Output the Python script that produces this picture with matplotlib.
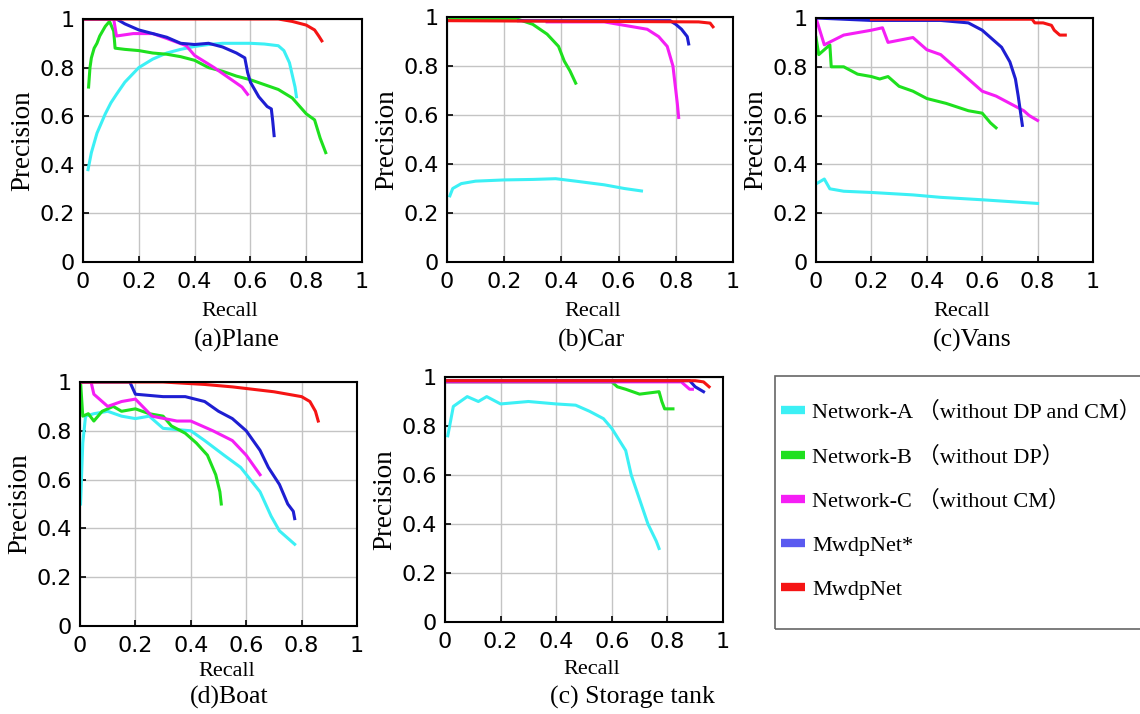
import matplotlib
matplotlib.use("Agg")
import matplotlib.pyplot as plt
from matplotlib.lines import Line2D
from matplotlib.patches import Rectangle

# model names and line colours
models = ["Network-A", "Network-B", "Network-C", "MwdpNet*", "MwdpNet"]
labels = ["Network-A （without DP and CM）", "Network-B （without DP）",
          "Network-C （without CM）", "MwdpNet*", "MwdpNet"]
colors = ["#3cf0f5", "#1ee01e", "#f51ef5", "#1e1ed2", "#f51414"]
legend_colors = ["#3cf0f5", "#1ee01e", "#f51ef5", "#5a5af0", "#f51414"]

# (recall, precision) read per class
plane = {
    "Network-A": ([0.018, 0.03, 0.05, 0.08, 0.10, 0.12, 0.15, 0.20, 0.25, 0.30, 0.35, 0.40, 0.45, 0.50,
                   0.60, 0.65, 0.70, 0.72, 0.74, 0.75, 0.76, 0.765],
                  [0.38, 0.45, 0.53, 0.61, 0.655, 0.69, 0.74, 0.80, 0.835, 0.86, 0.875, 0.887, 0.895, 0.90,
                   0.90, 0.897, 0.89, 0.87, 0.82, 0.77, 0.72, 0.68]),
    "Network-B": ([0.02, 0.025, 0.03, 0.04, 0.05, 0.06, 0.07, 0.08, 0.095, 0.11, 0.115, 0.15, 0.20, 0.25,
                   0.30, 0.35, 0.40, 0.45, 0.50, 0.55, 0.60, 0.65, 0.70, 0.75, 0.80, 0.83, 0.85, 0.87],
                  [0.72, 0.80, 0.84, 0.88, 0.90, 0.93, 0.95, 0.97, 0.99, 0.95, 0.88, 0.875, 0.87, 0.86,
                   0.855, 0.845, 0.83, 0.80, 0.785, 0.765, 0.75, 0.73, 0.71, 0.675, 0.61, 0.585, 0.51, 0.45]),
    "Network-C": ([0.0, 0.11, 0.12, 0.18, 0.25, 0.30, 0.37, 0.40, 0.47, 0.52, 0.57, 0.59],
                  [1.0, 1.0, 0.93, 0.94, 0.94, 0.92, 0.89, 0.85, 0.80, 0.76, 0.72, 0.69]),
    "MwdpNet*": ([0.0, 0.12, 0.15, 0.20, 0.25, 0.30, 0.35, 0.40, 0.45, 0.50, 0.55, 0.58, 0.59, 0.60,
                  0.63, 0.66, 0.675, 0.68, 0.685],
                 [1.0, 1.0, 0.98, 0.955, 0.94, 0.925, 0.90, 0.895, 0.90, 0.885, 0.86, 0.84, 0.78, 0.74,
                  0.68, 0.64, 0.63, 0.58, 0.52]),
    "MwdpNet": ([0.0, 0.70, 0.75, 0.80, 0.83, 0.845, 0.856],
                [1.0, 1.0, 0.99, 0.975, 0.955, 0.93, 0.91]),
}

car = {
    "Network-A": ([0.01, 0.02, 0.05, 0.10, 0.20, 0.30, 0.38, 0.45, 0.55, 0.62, 0.68],
                  [0.27, 0.30, 0.32, 0.33, 0.335, 0.337, 0.34, 0.33, 0.315, 0.30, 0.29]),
    "Network-B": ([0.01, 0.25, 0.30, 0.35, 0.39, 0.41, 0.43, 0.45],
                  [0.99, 0.99, 0.97, 0.93, 0.88, 0.82, 0.78, 0.73]),
    "Network-C": ([0.35, 0.55, 0.60, 0.70, 0.74, 0.77, 0.79, 0.80, 0.805, 0.81],
                  [0.98, 0.98, 0.97, 0.95, 0.92, 0.88, 0.80, 0.70, 0.65, 0.59]),
    "MwdpNet*": ([0.25, 0.78, 0.80, 0.82, 0.84, 0.845],
                 [0.985, 0.985, 0.97, 0.95, 0.92, 0.89]),
    "MwdpNet": ([0.0, 0.88, 0.92, 0.93],
                [0.985, 0.98, 0.975, 0.96]),
}

vans = {
    "Network-A": ([0.0, 0.03, 0.05, 0.10, 0.20, 0.35, 0.45, 0.60, 0.80],
                  [0.32, 0.34, 0.30, 0.29, 0.285, 0.275, 0.265, 0.255, 0.24]),
    "Network-B": ([0.0, 0.01, 0.05, 0.055, 0.10, 0.15, 0.20, 0.23, 0.26, 0.30, 0.35, 0.40, 0.47, 0.55,
                   0.60, 0.63, 0.65],
                  [0.92, 0.85, 0.89, 0.80, 0.80, 0.77, 0.76, 0.75, 0.76, 0.72, 0.70, 0.67, 0.65, 0.62,
                   0.61, 0.57, 0.55]),
    "Network-C": ([0.0, 0.03, 0.10, 0.20, 0.24, 0.26, 0.35, 0.40, 0.45, 0.50, 0.55, 0.60, 0.65, 0.70,
                   0.75, 0.77, 0.80],
                  [1.0, 0.89, 0.93, 0.95, 0.96, 0.90, 0.92, 0.87, 0.85, 0.80, 0.75, 0.70, 0.68, 0.65,
                   0.62, 0.60, 0.58]),
    "MwdpNet*": ([0.0, 0.20, 0.45, 0.55, 0.60, 0.63, 0.67, 0.70, 0.72, 0.73, 0.74, 0.745],
                 [1.0, 0.99, 0.99, 0.98, 0.95, 0.92, 0.88, 0.82, 0.75, 0.68, 0.60, 0.56]),
    "MwdpNet": ([0.20, 0.78, 0.79, 0.82, 0.85, 0.86, 0.88, 0.90],
                [0.995, 0.995, 0.98, 0.98, 0.97, 0.95, 0.93, 0.93]),
}

boat = {
    "Network-A": ([0.002, 0.01, 0.02, 0.05, 0.10, 0.15, 0.20, 0.25, 0.30, 0.40, 0.45, 0.52, 0.58,
                   0.65, 0.69, 0.72, 0.76, 0.775],
                  [0.50, 0.75, 0.86, 0.87, 0.88, 0.86, 0.85, 0.86, 0.81, 0.80, 0.76, 0.70, 0.65,
                   0.55, 0.45, 0.39, 0.35, 0.335]),
    "Network-B": ([0.002, 0.01, 0.03, 0.05, 0.08, 0.12, 0.15, 0.20, 0.25, 0.30, 0.33, 0.38, 0.42,
                   0.46, 0.49, 0.505, 0.51],
                  [1.0, 0.86, 0.87, 0.84, 0.88, 0.90, 0.88, 0.89, 0.87, 0.86, 0.82, 0.79, 0.75,
                   0.70, 0.62, 0.55, 0.50]),
    "Network-C": ([0.0, 0.04, 0.05, 0.10, 0.15, 0.20, 0.26, 0.35, 0.40, 0.48, 0.55, 0.60, 0.65],
                  [1.0, 1.0, 0.95, 0.90, 0.92, 0.93, 0.86, 0.84, 0.84, 0.80, 0.76, 0.70, 0.62]),
    "MwdpNet*": ([0.0, 0.18, 0.20, 0.30, 0.38, 0.45, 0.50, 0.55, 0.60, 0.65, 0.68, 0.72, 0.75,
                  0.77, 0.775],
                 [1.0, 1.0, 0.95, 0.94, 0.94, 0.92, 0.88, 0.85, 0.80, 0.72, 0.65, 0.58, 0.50,
                  0.47, 0.44]),
    "MwdpNet": ([0.0, 0.30, 0.45, 0.55, 0.70, 0.80, 0.83, 0.85, 0.86],
                [1.0, 1.0, 0.99, 0.98, 0.96, 0.94, 0.92, 0.88, 0.84]),
}

tank = {
    "Network-A": ([0.01, 0.03, 0.08, 0.12, 0.15, 0.20, 0.30, 0.40, 0.47, 0.52, 0.57, 0.60, 0.65,
                   0.67, 0.70, 0.73, 0.76, 0.77],
                  [0.76, 0.88, 0.92, 0.90, 0.92, 0.89, 0.90, 0.89, 0.885, 0.86, 0.83, 0.79, 0.70,
                   0.60, 0.50, 0.40, 0.33, 0.30]),
    "Network-B": ([0.0, 0.60, 0.62, 0.65, 0.70, 0.77, 0.78, 0.79, 0.82],
                  [0.98, 0.98, 0.96, 0.95, 0.93, 0.94, 0.90, 0.87, 0.87]),
    "Network-C": ([0.0, 0.85, 0.88, 0.89],
                  [0.98, 0.98, 0.95, 0.95]),
    "MwdpNet*": ([0.0, 0.88, 0.90, 0.93],
                 [0.985, 0.985, 0.96, 0.94]),
    "MwdpNet": ([0.0, 0.90, 0.93, 0.95],
                [0.985, 0.985, 0.98, 0.96]),
}

panels = [plane, car, vans, boat, tank]
titles = ["(a)Plane", "(b)Car", "(c)Vans", "(d)Boat", "(c) Storage tank"]
ticks = [0, 0.2, 0.4, 0.6, 0.8, 1]
tick_labels = ["0", "0.2", "0.4", "0.6", "0.8", "1"]

W, H = 1140, 714
# axes boxes in pixels: left, top, right, bottom
boxes = [(83, 19, 362, 262), (447, 17, 733, 262), (816, 18, 1093, 262),
         (80, 382, 357, 626), (445, 377, 723, 622)]
# pixel centres of the "Recall" label and of the panel caption
recall_pos = [(230, 312), (593, 312), (962, 312), (227, 671), (592, 670)]
title_pos = [(237, 340), (592, 340), (972, 340), (229, 697), (632, 697)]

serif = ["Liberation Serif", "Noto Sans CJK SC"]
fig = plt.figure(figsize=(W / 100, H / 100), dpi=100)

for data, title, (l, t, r, b), rp, tp in zip(panels, titles, boxes, recall_pos, title_pos):
    ax = fig.add_axes([l / W, 1 - b / H, (r - l) / W, (b - t) / H])
    for name, c in zip(models, colors):
        x, y = data[name]
        ax.plot(x, y, color=c, lw=2.2, solid_joinstyle="round")
    ax.set_xlim(0, 1)
    ax.set_ylim(0, 1)
    ax.set_xticks(ticks)
    ax.set_yticks(ticks)
    ax.set_xticklabels(tick_labels, family="DejaVu Sans", fontsize=16)
    ax.set_yticklabels(tick_labels, family="DejaVu Sans", fontsize=16)
    ax.tick_params(axis="x", direction="in", length=4, width=1.2, pad=7)
    ax.tick_params(axis="y", direction="in", length=4, width=1.2, pad=6)
    ax.grid(True, color="#c4c4c4", lw=1.0)
    for s in ax.spines.values():
        s.set_linewidth(1.5)
    ax.set_ylabel("Precision", family=serif, fontsize=19.5, labelpad=3)
    fig.text(rp[0] / W, 1 - rp[1] / H, "Recall", ha="center", va="center",
             family=serif, fontsize=16)
    fig.text(tp[0] / W, 1 - tp[1] / H, title, ha="center", va="center",
             family=serif, fontsize=18.5)

# legend panel
lx, ly, lr, lb = 775, 376, 1160, 629
fig.patches.append(Rectangle((lx / W, 1 - lb / H), (lr - lx) / W, (lb - ly) / H,
                             transform=fig.transFigure, fill=False, ec="#666666", lw=1.2))
handles = [Line2D([], [], color=c, lw=6, solid_capstyle="butt") for c in legend_colors]
fig.legend(handles, labels, loc="upper left", bbox_to_anchor=(781 / W, 1 - 402 / H),
           frameon=False, prop={"family": serif, "size": 16}, handlelength=1.1,
           handletextpad=0.3, labelspacing=1.05, borderaxespad=0, borderpad=0)

fig.savefig("out.png", dpi=100)
